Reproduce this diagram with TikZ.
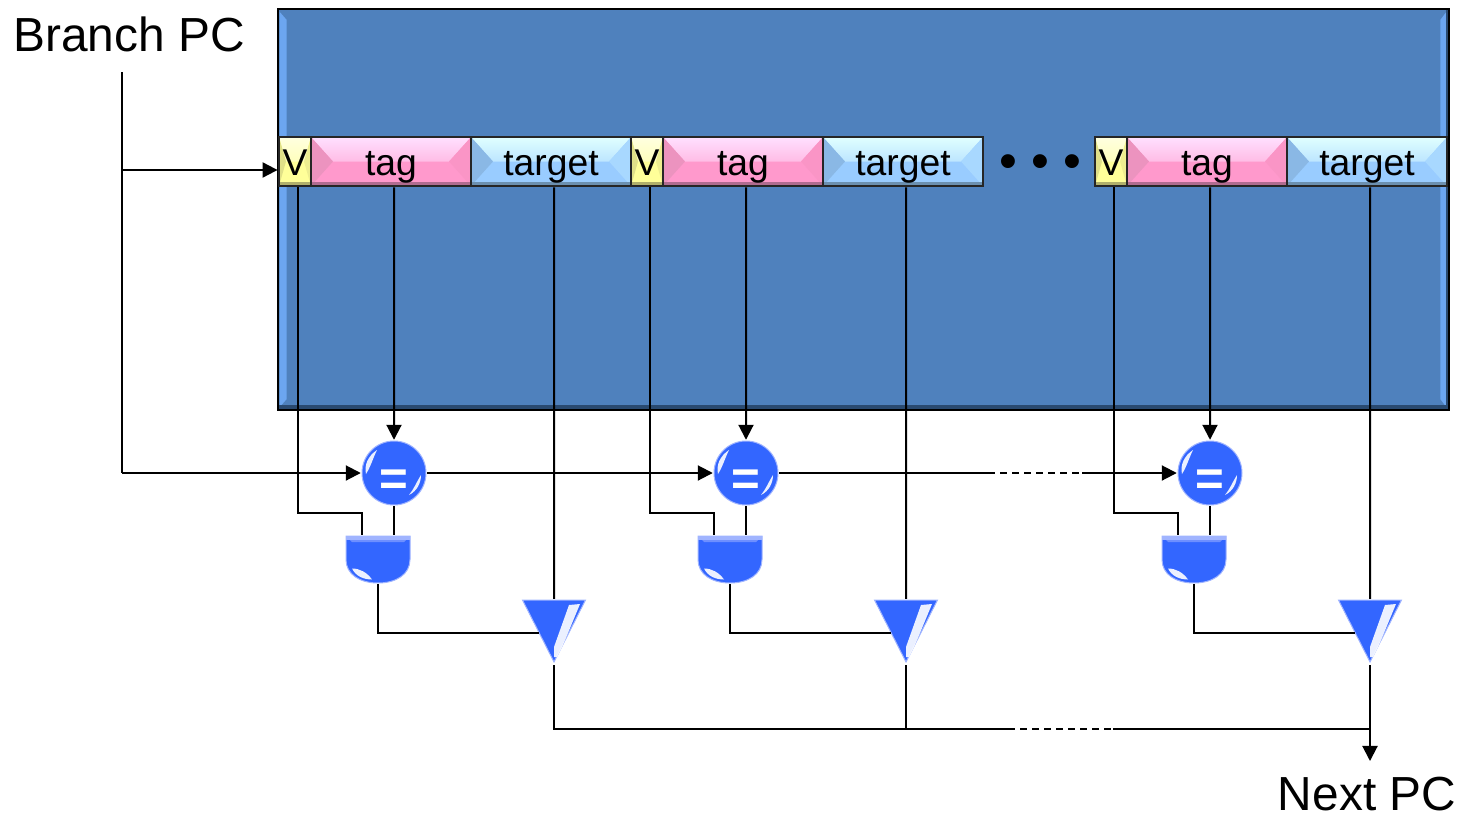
\documentclass[tikz,border=0pt]{standalone}
\usepackage{fontspec}
\setmainfont{Liberation Sans}
\usetikzlibrary{arrows.meta}
\definecolor{boxblue}{HTML}{4F81BD}
\definecolor{boxlight}{HTML}{6CA6F0}
\definecolor{boxdark}{HTML}{2A4A70}
\definecolor{gateblue}{HTML}{3366FF}
\definecolor{gateedge}{HTML}{A0B4FF}
\definecolor{gatetop}{HTML}{6E8FFF}
\definecolor{cellline}{HTML}{262626}
\definecolor{tagpink}{HTML}{FF99CC}
\definecolor{tagtop}{HTML}{FFE0FF}
\definecolor{tagleft}{HTML}{EC93BF}
\definecolor{tagright}{HTML}{FA95C6}
\definecolor{tagbottom}{HTML}{B06C90}
\definecolor{targetblue}{HTML}{99CCFF}
\definecolor{targettop}{HTML}{E0FFFF}
\definecolor{targetleft}{HTML}{8AB8E5}
\definecolor{targetright}{HTML}{A8D8FF}
\definecolor{targetbottom}{HTML}{6C90B0}
\definecolor{vyellow}{HTML}{FFFF99}
\definecolor{vtop}{HTML}{FFFFE0}
\definecolor{vleft}{HTML}{E0E088}
\definecolor{vright}{HTML}{EEEE90}
\definecolor{vbottom}{HTML}{B0B06C}
\newcommand{\eqsign}{\raisebox{-.22cm}[0pt][0pt]{\makebox[0pt]{=}}}

\begin{document}
\begin{tikzpicture}
[
x=.01cm,y=-.01cm,
wire/.style={line width=.02cm},
feed/.style={wire,-{Triangle[length=.15cm,width=.15cm]}},
gap/.style={line width=.015cm,dash pattern=on .07cm off .05cm},
bigbox/.style={draw=black,line width=.02cm,fill=boxblue,minimum width=11.71cm,minimum height=4.01cm,inner sep=0pt,
    path picture={
        \fill[boxlight] ([xshift=.02cm,yshift=-.03cm]path picture bounding box.north west) -- ([xshift=.09cm,yshift=-.11cm]path picture bounding box.north west) -- ([xshift=.09cm,yshift=.11cm]path picture bounding box.south west) -- ([xshift=.02cm,yshift=.03cm]path picture bounding box.south west) -- cycle;
        \fill[boxlight] ([xshift=-.03cm,yshift=-.03cm]path picture bounding box.north east) -- ([xshift=-.09cm,yshift=-.11cm]path picture bounding box.north east) -- ([xshift=-.09cm,yshift=.11cm]path picture bounding box.south east) -- ([xshift=-.03cm,yshift=.03cm]path picture bounding box.south east) -- cycle;
        \fill[boxdark] (path picture bounding box.south west) rectangle ([xshift=-.03cm,yshift=.05cm]path picture bounding box.south east);
        \fill[boxdark] (path picture bounding box.north east) rectangle ([xshift=-.03cm]path picture bounding box.south east);
    }},
cellface/.style n args={6}{draw=cellline,line width=.028cm,fill=#1,inner sep=0pt,minimum height=.49cm,
    text height=.3cm,text depth=.03cm,font=\fontsize{10.6}{10.6}\selectfont,
    path picture={
        \shade[top color=#2,bottom color=#1] (path picture bounding box.north west) -- (path picture bounding box.north east) -- ([xshift=-#6]path picture bounding box.east) -- ([xshift=#6]path picture bounding box.west) -- cycle;
        \fill[#3] (path picture bounding box.north west) -- ([xshift=#6]path picture bounding box.west) -- (path picture bounding box.south west) -- cycle;
        \fill[#4] (path picture bounding box.north east) -- ([xshift=-#6]path picture bounding box.east) -- (path picture bounding box.south east) -- cycle;
        \fill[#5] ([yshift=.045cm]path picture bounding box.south west) rectangle (path picture bounding box.south east);
    }},
vcell/.style={cellface={vyellow}{vtop}{vleft}{vright}{vbottom}{.07cm},minimum width=.32cm},
tagcell/.style={cellface={tagpink}{tagtop}{tagleft}{tagright}{tagbottom}{.22cm},minimum width=1.6cm},
targetcell/.style={cellface={targetblue}{targettop}{targetleft}{targetright}{targetbottom}{.22cm},minimum width=1.6cm},
eqball/.style={minimum size=.65cm,inner sep=0pt,
    text=white,font=\fontsize{14}{14}\selectfont\bfseries,
    path picture={
        \begin{scope}[shift={(path picture bounding box.center)}]
        \fill[gateblue,draw=gateedge,line width=.01cm] (0,0) circle[radius=32];
        \fill[white,opacity=.9] (-28,1) .. controls (-30,-8) and (-26,-17) .. (-17,-23) .. controls (-21,-15) and (-23,-7) .. (-28,1);
        \fill[white,opacity=.9] (27,2) .. controls (27,10) and (23,18) .. (15,22) .. controls (20,16) and (22,10) .. (27,2);
        \end{scope}
    }},
andgate/.style={minimum width=.65cm,minimum height=.48cm,inner sep=0pt,
    path picture={
        \begin{scope}[shift={(path picture bounding box.center)}]
        \fill[gateblue,draw=gateedge,line width=.01cm] (-32,-23.5) -- (32,-23.5) -- (32,0) .. controls (32,15) and (18,23.5) .. (0,23.5) .. controls (-18,23.5) and (-32,15) .. (-32,0) -- cycle;
        \fill[gatetop] (-32,-23.5) -- (32,-23.5) -- (26,-17.5) -- (-26,-17.5) -- cycle;
        \fill[gateedge] (-32,-23.5) rectangle (32,-20);
        \fill[white,opacity=.9] (-26,9) .. controls (-22,17) and (-14,20) .. (-6,20) .. controls (-11,13) and (-18,9) .. (-26,9);
        \end{scope}
    }},
muxgate/.style={minimum width=.65cm,minimum height=.63cm,inner sep=0pt,
    path picture={
        \begin{scope}[shift={(path picture bounding box.center)}]
        \fill[gateblue,draw=gateedge,line width=.01cm] (-31.5,-31) -- (31.5,-31) -- (0,31) -- cycle;
        \fill[white,opacity=.9] (15,-26) -- (26,-27) -- (14,2) -- (8,16) -- (3,26) -- (0,26) -- (0,16) -- (5,2) -- cycle;
        \end{scope}
    }},
biglabel/.style={inner sep=0pt,font=\fontsize{13.6}{13.6}\selectfont},
]
\useasboundingbox (0,0) rectangle (1463,818);

%Place the nodes
\node[biglabel] (branchpc) at (129,34) {Branch PC};
\node[biglabel] (nextpc) at (1367,794) {Next PC};
\node[bigbox] (table) at (863.5,209.5) {};

\node[vcell] (v1) at (295,161.5) {V};
\node[tagcell] (tag1) at (391,161.5) {tag};
\node[targetcell] (target1) at (551,161.5) {target};
\node[vcell] (v2) at (647,161.5) {V};
\node[tagcell] (tag2) at (743,161.5) {tag};
\node[targetcell] (target2) at (903,161.5) {target};
\node[inner sep=0pt,font=\fontsize{14.5}{14.5}\selectfont] (dots) at (1040,167) {• • •};
\node[vcell] (v3) at (1111,161.5) {V};
\node[tagcell] (tag3) at (1207,161.5) {tag};
\node[targetcell] (target3) at (1367,161.5) {target};

\node[eqball] (eq1) at (394,473) {\eqsign};
\node[eqball] (eq2) at (746,473) {\eqsign};
\node[eqball] (eq3) at (1210,473) {\eqsign};
\node[andgate] (and1) at (378,559.5) {};
\node[andgate] (and2) at (730,559.5) {};
\node[andgate] (and3) at (1194,559.5) {};
\node[muxgate] (mux1) at (554,631) {};
\node[muxgate] (mux2) at (906,631) {};
\node[muxgate] (mux3) at (1370,631) {};

%Free ends and bends
\coordinate (pcstart) at (122,72);
\coordinate (pcbend) at (122,473);
\coordinate (pctap) at (122,170);
\coordinate (vbend1) at (362,513);
\coordinate (vbend2) at (714,513);
\coordinate (vbend3) at (1178,513);
\coordinate (muxin1) at (539,633);
\coordinate (muxin2) at (891,633);
\coordinate (muxin3) at (1355,633);
\coordinate (muxout1) at (554,665);
\coordinate (muxout2) at (906,665);
\coordinate (muxout3) at (1370,665);
\coordinate (busjoin1) at (554,729);
\coordinate (busjoin2) at (906,729);
\coordinate (busjoin3) at (1370,729);
\coordinate (busgapa) at (1008,729);
\coordinate (busgapb) at (1113,729);
\coordinate (eqgapa) at (988,473);
\coordinate (eqgapb) at (1082,473);
\coordinate (pcend) at (1370,761);

%Draw the connections
\draw[wire] (pcstart) -- (pcbend);
\draw[feed] (pcbend) -- (eq1.west);
\draw[feed] (pctap) -- (v1.west |- pctap);
\draw[feed] (eq1.east) -- (eq2.west);
\draw[wire] (eq2.east) -- (eqgapa);
\draw[gap] (eqgapa) -- (eqgapb);
\draw[feed] (eqgapb) -- (eq3.west);

\draw[feed] ([xshift=.03cm]tag1.south) -- (eq1.north);
\draw[feed] ([xshift=.03cm]tag2.south) -- (eq2.north);
\draw[feed] ([xshift=.03cm]tag3.south) -- (eq3.north);

\draw[wire] ([xshift=.03cm]v1.south) |- (vbend1) -- (vbend1 |- and1.north);
\draw[wire] ([xshift=.03cm]v2.south) |- (vbend2) -- (vbend2 |- and2.north);
\draw[wire] ([xshift=.03cm]v3.south) |- (vbend3) -- (vbend3 |- and3.north);
\draw[wire] (eq1.south) -- (eq1.south |- and1.north);
\draw[wire] (eq2.south) -- (eq2.south |- and2.north);
\draw[wire] (eq3.south) -- (eq3.south |- and3.north);

\draw[wire] ([xshift=.03cm]target1.south) -- (mux1.north);
\draw[wire] ([xshift=.03cm]target2.south) -- (mux2.north);
\draw[wire] ([xshift=.03cm]target3.south) -- (mux3.north);
\draw[wire] (and1.south) |- (muxin1);
\draw[wire] (and2.south) |- (muxin2);
\draw[wire] (and3.south) |- (muxin3);

\draw[wire] (muxout1) -- (busjoin1) -- (busgapa);
\draw[gap] (busgapa) -- (busgapb);
\draw[wire] (busgapb) -- (busjoin3);
\draw[wire] (muxout2) -- (busjoin2);
\draw[feed] (muxout3) -- (pcend);
\end{tikzpicture}
\end{document}
